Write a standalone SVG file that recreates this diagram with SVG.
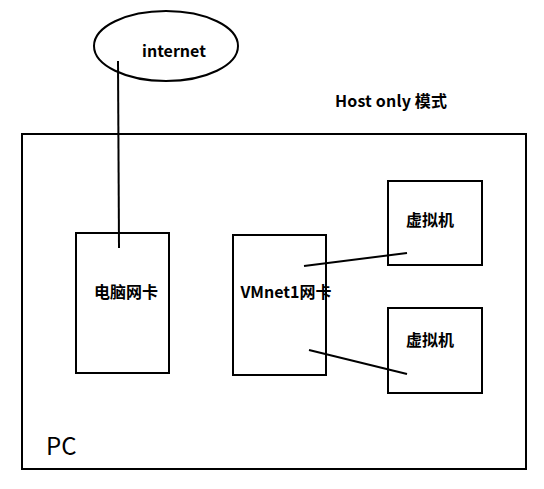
<svg xmlns="http://www.w3.org/2000/svg" width="544" height="489" viewBox="0 0 544 489">
<style>
.box{fill:#fff;stroke:#000;stroke-width:2}
.ln{stroke:#000;stroke-width:2;fill:none}
.t{font-family:"Noto Sans CJK SC","Liberation Sans",sans-serif;font-weight:bold;font-size:16px;fill:#000}
.pc{font-family:"Noto Sans CJK SC","Liberation Sans",sans-serif;font-size:24px;fill:#000}
</style>
<rect width="544" height="489" fill="#fff"/>
<g id="pc"><rect class="box" x="22" y="134" width="504" height="335"/><text class="pc" x="46" y="455">PC</text></g>
<g id="internet"><ellipse class="box" cx="166" cy="46" rx="72" ry="35"/><text class="t" x="174" y="57" text-anchor="middle">internet</text></g>
<g id="label"><text class="t" x="335" y="107" textLength="112">Host only 模式</text></g>
<g id="nic"><rect class="box" x="76" y="233" width="93" height="140"/><text class="t" x="126" y="298" text-anchor="middle">电脑网卡</text></g>
<g id="vmnet1"><rect class="box" x="233" y="235" width="93" height="140"/><text class="t" x="286" y="298" text-anchor="middle">VMnet1网卡</text></g>
<g id="vm1"><rect class="box" x="388" y="181" width="94" height="84"/><text class="t" x="430" y="226" text-anchor="middle">虚拟机</text></g>
<g id="vm2"><rect class="box" x="388" y="308" width="94" height="85"/><text class="t" x="430" y="346" text-anchor="middle">虚拟机</text></g>
<g id="connectors">
<line class="ln" x1="118" y1="61" x2="119" y2="248"/>
<line class="ln" x1="304" y1="266" x2="407" y2="253"/>
<line class="ln" x1="309" y1="350" x2="407" y2="374"/>
</g>
</svg>
